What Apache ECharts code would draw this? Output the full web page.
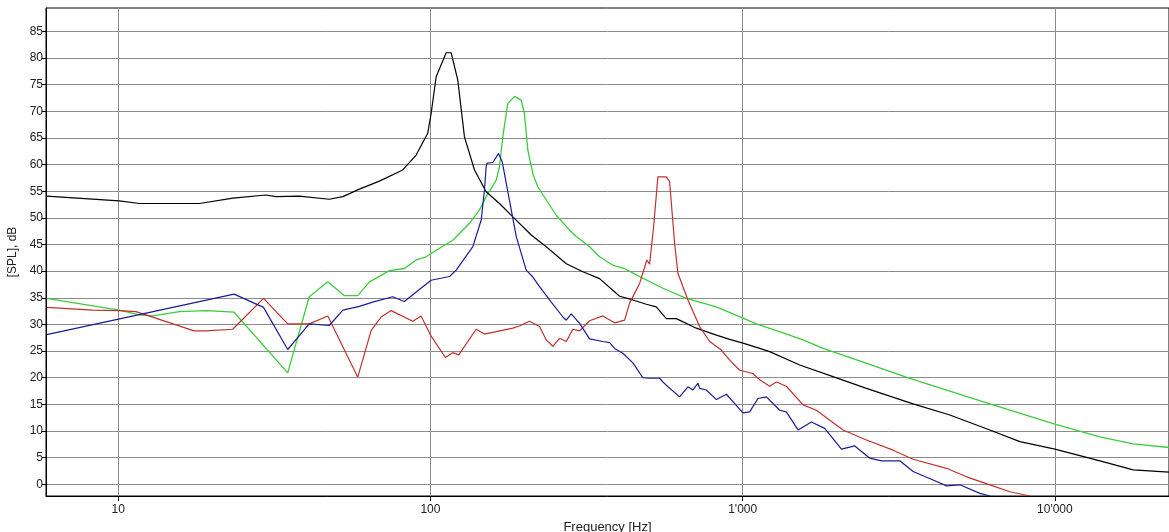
<!DOCTYPE html>
<html>
<head>
<meta charset="utf-8">
<script src="https://cdn.jsdelivr.net/npm/echarts@6/dist/echarts.min.js"></script>
<style>
html,body{margin:0;padding:0;background:#fff;}
#chart{width:1169px;height:532px;}
</style>
</head>
<body>
<div id="chart"></div>
<script>
// Tick labels
const xTickValues = [10, 100, 1000, 10000];
const xTickLabels = ["10", "100", "1'000", "10'000"];
const yTickValues = [0, 5, 10, 15, 20, 25, 30, 35, 40, 45, 50, 55, 60, 65, 70, 75, 80, 85];

// Black curve
const blackFreq = [5.9, 10.07, 11.7, 18.2, 23.3, 29.7, 32, 38, 47.4, 52.4, 59.2, 68.6, 81.5, 90, 98, 100.5, 104.3, 106.9, 112.3, 116.5, 122.3, 128.5, 138.4, 150.8, 166.4, 183.6, 210.3, 234.9, 272.3, 307.7, 348.1, 403.5, 445.1, 491.2, 528.8, 569.4, 613.1, 710.4, 823.8, 908.5, 1002, 1134, 1220, 1523, 1947, 2491, 3514, 4608, 6190, 7723, 10000, 13940, 17820, 23200];
const blackDb   = [54.1, 53.2, 52.7, 52.7, 53.7, 54.3, 54, 54.1, 53.5, 54, 55.4, 56.9, 59, 61.8, 65.9, 69.6, 76.5, 78, 81, 81, 75.9, 65.2, 59, 54.9, 52.7, 50.2, 46.8, 44.6, 41.4, 39.9, 38.6, 35.3, 34.6, 33.8, 33.3, 31.1, 31.1, 29.3, 28, 27.2, 26.5, 25.5, 24.9, 22.4, 20.2, 18, 15.1, 13, 10.2, 8, 6.6, 4.4, 2.7, 2.3];

// Green curve
const greenFreq = [5.9, 10.07, 11.7, 12.9, 15.7, 19.1, 23.5, 34.9, 40.9, 46.9, 53, 58.5, 63.8, 73.9, 82.5, 90, 96.8, 106.9, 117.9, 133.4, 143.6, 150.8, 162.4, 166.4, 170.5, 176.9, 185.8, 188.3, 195.3, 200, 205.1, 212.8, 220.8, 252.9, 279, 293.1, 323.3, 348.1, 384.1, 418.7, 456.1, 555.3, 659.8, 823.8, 1002, 1106, 1347, 1561, 1809, 2257, 3430, 6190, 10000, 13940, 17820, 23200];
const greenDb   = [34.9, 32.7, 31.8, 31.6, 32.4, 32.6, 32.3, 20.9, 35.2, 38, 35.4, 35.4, 38, 40.1, 40.5, 42.1, 42.7, 44.3, 45.8, 49, 51.5, 54, 57.1, 59.6, 65.2, 71.5, 72.8, 72.8, 72.1, 69.6, 62.7, 58.3, 55.8, 50.5, 47.7, 46.5, 44.6, 42.7, 41.1, 40.5, 39.3, 36.8, 34.9, 33.3, 31.2, 30.1, 28.4, 27.1, 25.5, 23.6, 19.9, 15.1, 11.3, 8.9, 7.6, 6.9];

// Blue curve
const blueFreq = [5.9, 23.5, 29.2, 34.9, 40.9, 47.4, 52.4, 59.2, 65.3, 75.7, 82.5, 90, 100.5, 115.1, 120.9, 125.4, 136.7, 145.4, 148.9, 150.8, 151.9, 158.4, 165.2, 169.8, 179.1, 188.3, 202.6, 212.8, 223.6, 240.7, 265.6, 272.3, 282.5, 300.4, 323.3, 356.6, 374.8, 388.9, 413.1, 445.1, 479, 503.4, 542, 555.3, 569.4, 628.1, 667.7, 692.8, 719, 728.1, 764.9, 823.8, 886.8, 1002, 1053, 1119, 1191, 1314, 1380, 1504, 1660, 1831, 2072, 2286, 2553, 2783, 3186, 3514, 4074, 4497, 4961, 5750, 6190];
const blueDb   = [28.1, 35.7, 33.2, 25.3, 30.1, 29.8, 32.7, 33.4, 34.2, 35.2, 34.3, 36.1, 38.3, 39, 40.2, 41.5, 44.6, 49.6, 55.2, 59.6, 60.3, 60.4, 62.1, 60.5, 53.3, 46.5, 40.2, 38.9, 37.1, 34.6, 31.4, 30.8, 32, 30.2, 27.3, 26.8, 26.6, 25.5, 24.6, 22.8, 20, 19.9, 19.9, 19.2, 18.6, 16.4, 18.3, 17.7, 19, 18, 17.7, 15.9, 16.9, 13.4, 13.6, 16.1, 16.4, 13.9, 13.6, 10.2, 11.7, 10.5, 6.6, 7.2, 4.9, 4.4, 4.4, 2.4, 0.8, -0.3, -0.1, -1.7, -2.2];

// Red curve
const redFreq = [5.9, 8.27, 10.07, 11.4, 17.5, 19.1, 23.25, 29.2, 34.9, 40.9, 46.9, 58.5, 64.6, 69.5, 74.8, 87.8, 93.3, 100.5, 111.7, 117.9, 123.2, 140.1, 148.9, 169.8, 183.6, 192.8, 207.6, 223.6, 234.9, 246.6, 259.2, 272.3, 285.8, 300.4, 323.3, 356.6, 388.9, 418.7, 434.4, 467.7, 493.4, 503.4, 518.4, 535.1, 569.4, 583.4, 605.4, 620.3, 667.7, 728.1, 784, 854.6, 908.5, 978.1, 1079, 1134, 1220, 1282, 1380, 1561, 1722, 2097, 2491, 3032, 3514, 4497, 5212, 6190, 7176, 8317];
const redDb   = [33.2, 32.7, 32.6, 32.4, 28.8, 28.8, 29.1, 34.9, 30.1, 30.1, 31.6, 20.1, 28.9, 31.4, 32.6, 30.6, 31.6, 27.8, 23.8, 24.7, 24.3, 29.1, 28.2, 28.9, 29.3, 29.7, 30.6, 29.6, 27.1, 25.9, 27.4, 26.8, 29.1, 28.8, 30.7, 31.6, 30.3, 30.8, 34, 37.7, 42.1, 41.3, 48.3, 57.7, 57.7, 56.8, 45.2, 39.6, 34.6, 29.6, 26.8, 25.2, 23.3, 21.4, 20.8, 19.6, 18.4, 19.2, 18.4, 14.9, 13.9, 10.2, 8.3, 6.4, 4.7, 3, 1.4, -0.1, -1.4, -2.2];

function pairs(fs, ds) { return fs.map((f, i) => [f, ds[i]]); }

const chart = echarts.init(document.getElementById('chart'), null, {renderer: 'canvas'});
const font = '"Liberation Sans", Arial, sans-serif';
const gridColor = '#8c8c8c';

const option = {
  animation: false,
  backgroundColor: '#fff',
  grid: {left: 46, right: 0, top: 8, bottom: 36, show: true, borderColor: '#000', borderWidth: 1,
    backgroundColor: 'transparent', containLabel: false, outerBoundsMode: 'none'},
  xAxis: {
    type: 'log',
    logBase: 10,
    min: 5.87,
    max: 23200,
    name: 'Frequency [Hz]',
    nameLocation: 'middle',
    nameGap: 21,
    nameTextStyle: {fontFamily: font, fontSize: 13, color: '#222'},
    axisLine: {show: true, onZero: false, lineStyle: {color: '#000', width: 1}},
    axisTick: {show: true, length: 5, lineStyle: {color: '#000'}, customValues: xTickValues},
    axisLabel: {
      fontFamily: font, fontSize: 12, color: '#222', margin: 8,
      customValues: xTickValues,
      formatter: function (v) {
        const i = xTickValues.findIndex(t => Math.abs(v - t) / t < 1e-6);
        return i >= 0 ? xTickLabels[i] : '';
      }
    },
    splitLine: {show: true, lineStyle: {color: gridColor, width: 1}},
    minorTick: {show: false},
    minorSplitLine: {show: false}
  },
  yAxis: {
    type: 'value',
    min: -2.2,
    max: 89.4,
    name: '[SPL], dB',
    nameLocation: 'middle',
    nameGap: 23,
    nameTextStyle: {fontFamily: font, fontSize: 12, color: '#222'},
    axisLine: {show: true, onZero: false, lineStyle: {color: '#000', width: 1}},
    axisTick: {show: true, length: 4, lineStyle: {color: '#000'}, customValues: yTickValues},
    axisLabel: {
      fontFamily: font, fontSize: 12, color: '#222', margin: 3,
      customValues: yTickValues
    },
    splitLine: {show: true, lineStyle: {color: gridColor, width: 1}}
  },
  series: [
    {name: 'green', type: 'line', showSymbol: false, symbol: 'none', data: pairs(greenFreq, greenDb), lineStyle: {color: '#3ccc3c', width: 1.3}, z: 2},
    {name: 'black', type: 'line', showSymbol: false, symbol: 'none', data: pairs(blackFreq, blackDb), lineStyle: {color: '#000000', width: 1.2}, z: 3},
    {name: 'red', type: 'line', showSymbol: false, symbol: 'none', data: pairs(redFreq, redDb), lineStyle: {color: '#c0302e', width: 1.2}, z: 4},
    {name: 'blue', type: 'line', showSymbol: false, symbol: 'none', data: pairs(blueFreq, blueDb), lineStyle: {color: '#1c1c96', width: 1.2}, z: 5}
  ]
};
chart.setOption(option);
</script>
</body>
</html>
